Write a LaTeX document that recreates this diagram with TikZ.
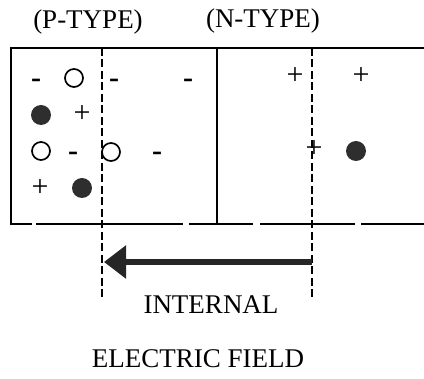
\documentclass[tikz,border=0pt]{standalone}
\usepackage{fontspec}
\setmainfont{Liberation Serif}
\usetikzlibrary{arrows.meta,positioning}
\tikzset{
  wall/.style={line width=2.8pt},
  jnc/.style={line width=2pt,dash pattern=on 8pt off 3.5pt},
  hole/.style={circle,draw,line width=1.7pt,minimum size=18pt,inner sep=0},
  elec/.style={circle,fill=black!82,minimum size=20pt,inner sep=0},
  chg/.style={font=\fontsize{30}{36}\selectfont,inner sep=0},
  neg/.style={chg,font=\fontsize{30}{36}\selectfont\bfseries,yshift=-3pt},
  lbl/.style={font=\fontsize{27}{32}\selectfont,inner sep=1pt,anchor=base},
  field/.style={-{Triangle[length=22pt,width=32pt]},line width=6.5pt,draw=black!85},
}
\begin{document}
\begin{tikzpicture}[x=1pt,y=1pt]
  \useasboundingbox (0,0) rectangle (424,-379);

  % ---------------- titles ----------------
  \node[lbl] (ptype) at (88,-29) {(P-TYPE)};
  \node[lbl] (ntype) at (263,-28) {(N-TYPE)};

  % ---------------- crystal outline ----------------
  \draw[wall] (424,-48) -- (11,-48) -- (11,-224) -- (32,-224);
  \foreach \a/\b in {36/183,189/253,260/355,361/424}
    \draw[wall] (\a,-224) -- (\b,-224);
  \draw[wall] (217,-48) -- (217,-224);

  % ---------------- depletion edges ----------------
  \coordinate (jl) at (102,-48);
  \coordinate (jr) at (312,-48);
  \draw[jnc] (jl) -- ++(0,-250);
  \draw[jnc] (jr) -- ++(0,-250);

  % ---------------- carriers and ions ----------------
  \foreach \n/\x/\y in {h1/74/78,h2/41/151,h3/111/152}
    \node[hole] (\n) at (\x,-\y) {};
  \foreach \n/\x/\y in {e1/41/115,e2/82/188,e3/356/151}
    \node[elec] (\n) at (\x,-\y) {};
  \foreach \n/\x/\y in {a1/36/80,a2/114/80,a3/188/80,a4/73/153,a5/157/153}
    \node[neg] (\n) at (\x,-\y) {-};
  \foreach \n/\x/\y in {d1/82/114,d2/40/188,d3/295/76,d4/361/76,d5/314/149}
    \node[chg] (\n) at (\x,-\y) {+};

  % ---------------- field ----------------
  \coordinate (ftail) at (312,-262);
  \coordinate (fhead) at (104,-262);
  \draw[field] (ftail) -- (fhead);
  \node[lbl] (intl) at (211,-314) {INTERNAL};
  \node[lbl] (efld) at (198,-368) {ELECTRIC FIELD};
\end{tikzpicture}
\end{document}
